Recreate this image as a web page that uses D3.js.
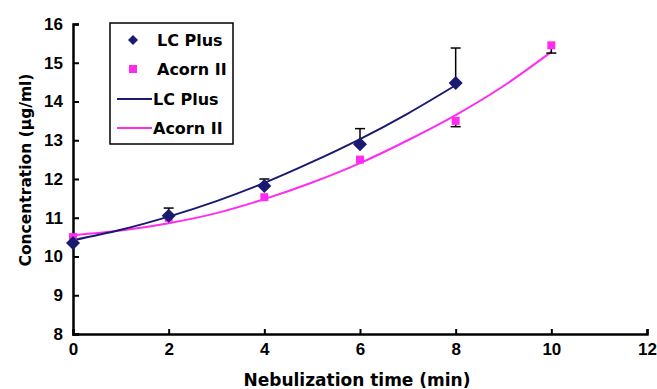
<!DOCTYPE html>
<html>
<head>
<meta charset="utf-8">
<script src="https://cdn.jsdelivr.net/npm/d3@7"></script>
<style>
  body { margin: 0; background: #fff; }
  text { font-family: Arial, "Liberation Sans", sans-serif; font-weight: bold; }
  .lab { font-family: "DejaVu Sans", Verdana, sans-serif; }
</style>
</head>
<body>
<div id="plot"></div>
<script>
// measured points
var times = [0, 2, 4, 6, 8, 10];
var lcPlus = [10.35, 11.05, 11.82, 12.9, 14.48, null];
var lcPlusErr = [0.0, 0.2, 0.18, 0.4, 0.9, null];
var acorn = [10.5, 11.0, 11.53, 12.5, 13.5, 15.45];
var acornErr = [0.0, 0.0, 0.0, 0.0, 0.15, 0.2];

// trend lines
var lcTrendX = [0, 1, 2, 3, 4, 5, 6, 7, 8];
var lcTrendY = [10.42, 10.69, 11.03, 11.43, 11.9, 12.44, 13.03, 13.69, 14.42];
var acTrendX = [0, 1, 2, 3, 4, 5, 6, 7, 8, 9, 10];
var acTrendY = [10.55, 10.67, 10.86, 11.12, 11.48, 11.91, 12.41, 13.0, 13.65, 14.4, 15.28];

var xTicks = [0, 2, 4, 6, 8, 10, 12];
var yTicks = [8, 9, 10, 11, 12, 13, 14, 15, 16];

var svgWidth = 657;
var svgHeight = 389;
var margin = { top: 24, right: 10, bottom: 55, left: 73 };
var width = svgWidth - margin.left - margin.right;
var height = svgHeight - margin.top - margin.bottom;

var navy = "#1a1a72";
var pink = "#ff2cf0";

var svg = d3.select("#plot")
  .append("svg")
  .attr("width", svgWidth)
  .attr("height", svgHeight);

var chartGroup = svg.append("g")
  .attr("transform", `translate(${margin.left}, ${margin.top})`);

var x = d3.scaleLinear().domain([0, 12]).range([0, width]);
var y = d3.scaleLinear().domain([8, 16]).range([height, 0]);

var bottomAxis = d3.axisBottom(x).tickValues(xTicks).tickSize(-5).tickPadding(9);
var leftAxis = d3.axisLeft(y).tickValues(yTicks).tickSize(-6).tickPadding(10);

var xg = chartGroup.append("g")
  .attr("transform", `translate(0, ${height})`)
  .call(bottomAxis);
var yg = chartGroup.append("g").call(leftAxis);

[xg, yg].forEach(function (g) {
  g.select(".domain").attr("stroke", "#000").attr("stroke-width", 2.5);
  g.selectAll(".tick line").attr("stroke", "#000").attr("stroke-width", 2);
  g.selectAll(".tick text").attr("fill", "#000").style("font-size", "17px").style("font-weight", "bold");
});

// trend lines
var line = d3.line()
  .x(d => x(d[0]))
  .y(d => y(d[1]))
  .curve(d3.curveMonotoneX);

chartGroup.append("path")
  .datum(d3.zip(acTrendX, acTrendY))
  .attr("d", line)
  .attr("fill", "none")
  .attr("stroke", pink)
  .attr("stroke-width", 2);

chartGroup.append("path")
  .datum(d3.zip(lcTrendX, lcTrendY))
  .attr("d", line)
  .attr("fill", "none")
  .attr("stroke", navy)
  .attr("stroke-width", 2);

// error bars
var lcData = times.map((t, i) => ({ t: t, v: lcPlus[i], e: lcPlusErr[i] })).filter(d => d.v != null);
var acData = times.map((t, i) => ({ t: t, v: acorn[i], e: acornErr[i] })).filter(d => d.v != null);

var errG = chartGroup.append("g").attr("stroke", "#000").attr("stroke-width", 1.5);
lcData.filter(d => d.e > 0).forEach(function (d) {
  errG.append("line").attr("x1", x(d.t)).attr("x2", x(d.t)).attr("y1", y(d.v)).attr("y2", y(d.v + d.e));
  errG.append("line").attr("x1", x(d.t) - 5).attr("x2", x(d.t) + 5).attr("y1", y(d.v + d.e)).attr("y2", y(d.v + d.e));
});
acData.filter(d => d.e > 0).forEach(function (d) {
  errG.append("line").attr("x1", x(d.t)).attr("x2", x(d.t)).attr("y1", y(d.v)).attr("y2", y(d.v - d.e));
  errG.append("line").attr("x1", x(d.t) - 5).attr("x2", x(d.t) + 5).attr("y1", y(d.v - d.e)).attr("y2", y(d.v - d.e));
});

// markers
chartGroup.selectAll(".sq")
  .data(acData)
  .enter()
  .append("rect")
  .attr("x", d => x(d.t) - 4)
  .attr("y", d => y(d.v) - 4)
  .attr("width", 8)
  .attr("height", 8)
  .attr("fill", pink);

chartGroup.selectAll(".dia")
  .data(lcData)
  .enter()
  .append("path")
  .attr("transform", d => `translate(${x(d.t)}, ${y(d.v)})`)
  .attr("d", "M0,-7L7,0L0,7L-7,0Z")
  .attr("fill", navy);

// legend
var legend = svg.append("g").attr("transform", "translate(110, 23)");
legend.append("rect")
  .attr("width", 123).attr("height", 121)
  .attr("fill", "#fff").attr("stroke", "#000").attr("stroke-width", 1.5);

var legendLabels = ["LC Plus", "Acorn II", "LC Plus", "Acorn II"];
var legendY = [17, 46, 76, 105];
legendLabels.forEach(function (lab, i) {
  var ly = legendY[i];
  if (i === 0) {
    legend.append("path").attr("transform", `translate(23, ${ly})`)
      .attr("d", "M0,-5L5,0L0,5L-5,0Z").attr("fill", navy);
  } else if (i === 1) {
    legend.append("rect").attr("x", 19).attr("y", ly - 4).attr("width", 8).attr("height", 8).attr("fill", pink);
  } else {
    legend.append("line").attr("x1", 7).attr("x2", 42).attr("y1", ly).attr("y2", ly)
      .attr("stroke", i === 2 ? navy : pink).attr("stroke-width", 2);
  }
  legend.append("text")
    .attr("class", "lab")
    .attr("x", i < 2 ? 47 : 43)
    .attr("y", ly)
    .attr("dy", "0.36em")
    .style("font-size", "16px")
    .text(lab);
});

// axis titles
svg.append("text")
  .attr("class", "lab")
  .attr("transform", "translate(31, 170) rotate(-90)")
  .attr("text-anchor", "middle")
  .style("font-size", "15.5px")
  .text("Concentration (\u00b5g/ml)");

svg.append("text")
  .attr("class", "lab")
  .attr("x", 357)
  .attr("y", 386)
  .attr("text-anchor", "middle")
  .style("font-size", "17px")
  .text("Nebulization time (min)");
</script>
</body>
</html>
